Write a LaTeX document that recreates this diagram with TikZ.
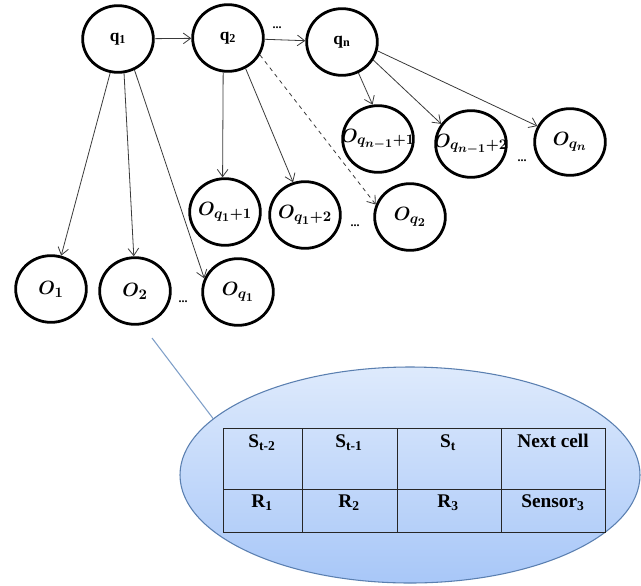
\documentclass[tikz,border=0pt]{standalone}
\usepackage{fontspec}
\setmainfont{Liberation Serif}
\usepackage{amsmath}
\DeclareMathSizes{13.5}{13.5}{10.5}{9}
\usetikzlibrary{shapes.geometric,arrows.meta}
\definecolor{arrowgray}{HTML}{3A3A3A}
\definecolor{elltop}{HTML}{DEEAFC}
\definecolor{ellbot}{HTML}{A8C7F8}
\definecolor{ellborder}{HTML}{5A7FB0}
\definecolor{zoomline}{HTML}{7F9FC8}
\tikzset{
  state/.style={ellipse, draw=black, line width=2.1pt, fill=white,
    minimum width=53pt, minimum height=50pt, inner sep=0pt},
  qlab/.style={font=\fontsize{13}{15}\selectfont\bfseries},
  olab/.style={font=\fontsize{13.5}{16}\selectfont\boldmath},
  arr/.style={draw=arrowgray, line width=0.6pt, -{Straight Barb[length=5.5pt,width=8pt]}},
  dots/.style={font=\fontsize{9}{10}\selectfont\bfseries, inner sep=0pt},
  cell/.style={draw=black!85, line width=1pt, inner sep=0pt, anchor=north west},
  ctext/.style={font=\fontsize{14.5}{17}\selectfont\bfseries, inner sep=0pt}
}
\begin{document}
\begin{tikzpicture}[x=0.75pt,y=-0.75pt]
\useasboundingbox (0,0) rectangle (641,585);
% zoom ellipse and table
\coordinate (zoomfrom) at (152,338);
\node[ellipse, draw=ellborder, line width=0.8pt, top color=elltop, bottom color=ellbot,
  minimum width=345pt, minimum height=162pt, inner sep=0pt] (ell) at (410,475) {};
\draw[zoomline, line width=0.8pt] (zoomfrom) -- (ell.164);
\node[cell, minimum width=59.25pt, minimum height=45.75pt] (c11) at (223,428) {};
\node[cell, minimum width=71.25pt, minimum height=45.75pt] (c12) at (302,428) {};
\node[cell, minimum width=78pt, minimum height=45.75pt] (c13) at (397,428) {};
\node[cell, minimum width=78pt, minimum height=45.75pt] (c14) at (501,428) {};
\node[cell, minimum width=59.25pt, minimum height=32.25pt] (c21) at (223,489) {};
\node[cell, minimum width=71.25pt, minimum height=32.25pt] (c22) at (302,489) {};
\node[cell, minimum width=78pt, minimum height=32.25pt] (c23) at (397,489) {};
\node[cell, minimum width=78pt, minimum height=32.25pt] (c24) at (501,489) {};
\node[ctext] (t11) at (262,443) {S\textsubscript{t-2}};
\node[ctext] (t12) at (349,443) {S\textsubscript{t-1}};
\node[ctext] (t13) at (448,443) {S\textsubscript{t}};
\node[ctext] (t14) at (553,441) {Next cell};
\node[ctext] (t21) at (262,503) {R\textsubscript{1}};
\node[ctext] (t22) at (349,503) {R\textsubscript{2}};
\node[ctext] (t23) at (448,503) {R\textsubscript{3}};
\node[ctext] (t24) at (553,503) {Sensor\textsubscript{3}};
% states
\node[state, qlab] (q1) at (118,39) {q\textsubscript{1}};
\node[state, qlab] (q2) at (228,38) {q\textsubscript{2}};
\node[state, qlab] (qn) at (342,42) {q\textsubscript{n}};
% observations
\node[state, olab] (o1) at (51,289) {$O_1$};
\node[state, olab] (o2) at (135,291) {$O_2$};
\node[state, olab] (oq1) at (238,292) {$O_{q_1}$};
\node[state, olab] (oq11) at (225,212) {\makebox[0pt]{$O_{q_1+1}$}};
\node[state, olab] (oq12) at (305,215) {\makebox[0pt]{$O_{q_1+2}$}};
\node[state, olab] (oq2) at (410,217) {$O_{q_2}$};
\node[state, olab] (on1) at (378,139) {\makebox[0pt]{$O_{q_{n-1}+1}$}};
\node[state, olab] (on2) at (471,144) {\makebox[0pt]{$O_{q_{n-1}+2}$}};
\node[state, olab] (on) at (570,142) {$O_{q_n}$};
% dots
\node[dots] (d1) at (277,28) {...};
\node[dots] (d2) at (183,302) {...};
\node[dots] (d3) at (355,226) {...};
\node[dots] (d4) at (522,161) {...};
% arrows
\draw[arr] (q1) -- (q2);
\draw[arr] (q2) -- (qn);
\draw[arr] (q1.-103) -- (o1.73);
\draw[arr] (q1.-80) -- (o2.92);
\draw[arr] (q1.-62) -- (oq1.158);
\draw[arr] (q2.-98) -- (oq11.94);
\draw[arr] (q2.-60) -- (oq12.110);
\draw[arr, dashed] (q2.-28) -- (oq2.160);
\draw[arr] (qn.-62) -- (on1.99);
\draw[arr] (qn.-30) -- (on2.146);
\draw[arr] (qn.-14) -- (on.154);
\end{tikzpicture}
\end{document}
